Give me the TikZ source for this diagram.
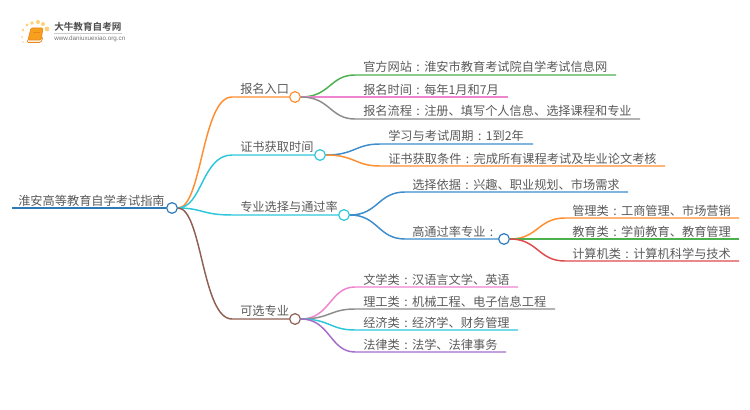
\documentclass[tikz,border=0pt]{standalone}
\usepackage{fontspec}
\setmainfont{Noto Sans CJK SC}[BoldFont={Noto Sans CJK SC Bold}]
\newfontfamily\urlfont{Liberation Sans}
\usepackage{xcolor}
\definecolor{txtgray}{HTML}{5A5A5A}
\definecolor{rootblue}{HTML}{2B7BBA}
\definecolor{mmorange}{HTML}{FF8E30}
\definecolor{mmcyan}{HTML}{2CC7DA}
\definecolor{mmbrown}{HTML}{8E5F52}
\definecolor{mmgreen}{HTML}{4DB04F}
\definecolor{mmpink}{HTML}{EE84CF}
\definecolor{mmgray}{HTML}{8C8C8C}
\definecolor{mmblue}{HTML}{3D8CCB}
\definecolor{mmred}{HTML}{DF4A4A}
\definecolor{mmpurple}{HTML}{A56CC9}
\definecolor{bookorange}{HTML}{F6A01E}
\definecolor{bookedge}{HTML}{E9851A}
\definecolor{sundot}{HTML}{FBD27A}
\newcommand{\cln}{\makebox[1em][c]{:}}
\tikzset{
  every node/.style={font=\fontsize{9.15pt}{11pt}\selectfont, text=txtgray, inner sep=0pt},
  topic/.style={anchor=base west},
  dot/.style={circle, draw=#1, fill=white, line width=0.9pt, minimum size=8pt},
  wire/.style={draw=#1, line width=1.1pt}
}
\begin{document}
\begin{tikzpicture}[x=0.75pt, y=-0.75pt]
  \useasboundingbox (0,0) rectangle (750,410);

  % Logo
  \foreach \px/\py/\pr in {32/23/1.9, 38/22/2, 43/24/2, 47/29/2.4, 27/25/1.6, 23/30/1.3, 22/37/1, 23/42/0.8}
    \fill[sundot] (\px,\py) circle (\pr);
  \fill[white!85!bookorange, draw=bookedge, line width=0.5pt, rounded corners=1pt] (29,37) -- (43,37) -- (41,42.5) -- (27,42.5) -- cycle;
  \fill[bookorange, draw=bookedge, line width=0.5pt, rounded corners=1pt] (31,28) -- (43,28) -- (41,40) -- (28,40) -- cycle;
  \draw[bookedge, line width=0.5pt] (33,32) -- (40,32);
  \node[anchor=west, font=\fontsize{7.2pt}{8pt}\selectfont\bfseries, text=black!70] (brand) at (54,27) {大牛教育自考网};
  \node[anchor=west, font=\fontsize{4.7pt}{6pt}\urlfont, text=black!55] (site) at (54,38.5) {www.daniuxuexiao.org.cn};
  \draw[black!20, line width=0.4pt] (54,33) -- (122,33);

  % Root
  \node[dot=rootblue] (root) at (172,208) {};
  \coordinate (rootend) at (12,208);
  \node[topic] (roottext) at (18,205) {淮安高等教育自学考试指南};
  \draw[wire=rootblue] (rootend) -- (root.west);

  % Main branches
  \node[dot=mmorange] (entry) at (295,97) {};
  \node[dot=mmcyan] (cert) at (320,155) {};
  \node[dot=mmcyan] (major) at (344,215) {};
  \node[dot=mmbrown] (optional) at (295,319) {};
  \coordinate (entryin) at (232,97);
  \coordinate (certin) at (232,155);
  \coordinate (majorin) at (232,215);
  \coordinate (optionalin) at (232,319);
  \node[topic] (entrytext) at (240,93.5) {报名入口};
  \node[topic] (certtext) at (240,151.5) {证书获取时间};
  \node[topic] (majortext) at (240,211.5) {专业选择与通过率};
  \node[topic] (optionaltext) at (240,315.5) {可选专业};
  \draw[wire=mmorange] (root.east) .. controls (202,208) and (202,97) .. (entryin) -- (entry.west);
  \draw[wire=mmcyan] (root.east) .. controls (202,208) and (202,155) .. (certin) -- (cert.west);
  \draw[wire=mmcyan] (root.east) .. controls (202,208) and (202,215) .. (majorin) -- (major.west);
  \draw[wire=mmbrown] (root.east) .. controls (202,208) and (202,319) .. (optionalin) -- (optional.west);

  % Entry leaves
  \coordinate (a1) at (355,75);
  \coordinate (a2) at (355,97);
  \coordinate (a3) at (355,119);
  \coordinate (a1end) at (616,75);
  \coordinate (a2end) at (508,97);
  \coordinate (a3end) at (640,119);
  \node[topic] (a1text) at (363,72) {官方网站\cln 淮安市教育考试院自学考试信息网};
  \node[topic] (a2text) at (363,94) {报名时间\cln 每年1月和7月};
  \node[topic] (a3text) at (363,116) {报名流程\cln 注册、填写个人信息、选择课程和专业};
  \draw[wire=mmgreen] (entry.east) .. controls (330,97) and (330,75) .. (a1) -- (a1end);
  \draw[wire=mmpink] (entry.east) -- (a2) -- (a2end);
  \draw[wire=mmgray] (entry.east) .. controls (330,97) and (330,119) .. (a3) -- (a3end);

  % Certificate leaves
  \coordinate (b1) at (380,144);
  \coordinate (b2) at (380,166);
  \coordinate (b1end) at (533,144);
  \coordinate (b2end) at (665,166);
  \node[topic] (b1text) at (388,141) {学习与考试周期\cln 1到2年};
  \node[topic] (b2text) at (388,163) {证书获取条件\cln 完成所有课程考试及毕业论文考核};
  \draw[wire=mmblue] (cert.east) .. controls (355,155) and (355,144) .. (b1) -- (b1end);
  \draw[wire=mmorange] (cert.east) .. controls (355,155) and (355,166) .. (b2) -- (b2end);

  % Major leaves
  \node[dot=rootblue] (pass) at (504,239) {};
  \coordinate (c1) at (405,192);
  \coordinate (c2) at (405,239);
  \coordinate (c1end) at (628,192);
  \node[topic] (c1text) at (412,189) {选择依据\cln 兴趣、职业规划、市场需求};
  \node[topic] (c2text) at (412,236) {高通过率专业\cln};
  \draw[wire=mmblue] (major.east) .. controls (378,215) and (378,192) .. (c1) -- (c1end);
  \draw[wire=mmblue] (major.east) .. controls (378,215) and (378,239) .. (c2) -- (pass.west);

  % Pass rate leaves
  \coordinate (d1) at (565,218);
  \coordinate (d2) at (565,239);
  \coordinate (d3) at (565,261);
  \coordinate (d1end) at (739,218);
  \coordinate (d2end) at (739,239);
  \coordinate (d3end) at (739,261);
  \node[topic] (d1text) at (572,215) {管理类\cln 工商管理、市场营销};
  \node[topic] (d2text) at (572,236) {教育类\cln 学前教育、教育管理};
  \node[topic] (d3text) at (572,258) {计算机类\cln 计算机科学与技术};
  \draw[wire=mmorange] (pass.east) .. controls (538,239) and (538,218) .. (d1) -- (d1end);
  \draw[wire=mmgreen] (pass.east) -- (d2) -- (d2end);
  \draw[wire=mmred] (pass.east) .. controls (538,239) and (538,261) .. (d3) -- (d3end);

  % Optional leaves
  \coordinate (e1) at (355,287);
  \coordinate (e2) at (355,309);
  \coordinate (e3) at (355,330);
  \coordinate (e4) at (355,352);
  \coordinate (e1end) at (518,287);
  \coordinate (e2end) at (555,309);
  \coordinate (e3end) at (518,330);
  \coordinate (e4end) at (506,352);
  \node[topic] (e1text) at (363,284) {文学类\cln 汉语言文学、英语};
  \node[topic] (e2text) at (363,306) {理工类\cln 机械工程、电子信息工程};
  \node[topic] (e3text) at (363,327) {经济类\cln 经济学、财务管理};
  \node[topic] (e4text) at (363,349) {法律类\cln 法学、法律事务};
  \draw[wire=mmpink] (optional.east) .. controls (330,319) and (330,287) .. (e1) -- (e1end);
  \draw[wire=mmgray] (optional.east) .. controls (330,319) and (330,309) .. (e2) -- (e2end);
  \draw[wire=mmcyan] (optional.east) .. controls (330,319) and (330,330) .. (e3) -- (e3end);
  \draw[wire=mmpurple] (optional.east) .. controls (330,319) and (330,352) .. (e4) -- (e4end);
\end{tikzpicture}
\end{document}
